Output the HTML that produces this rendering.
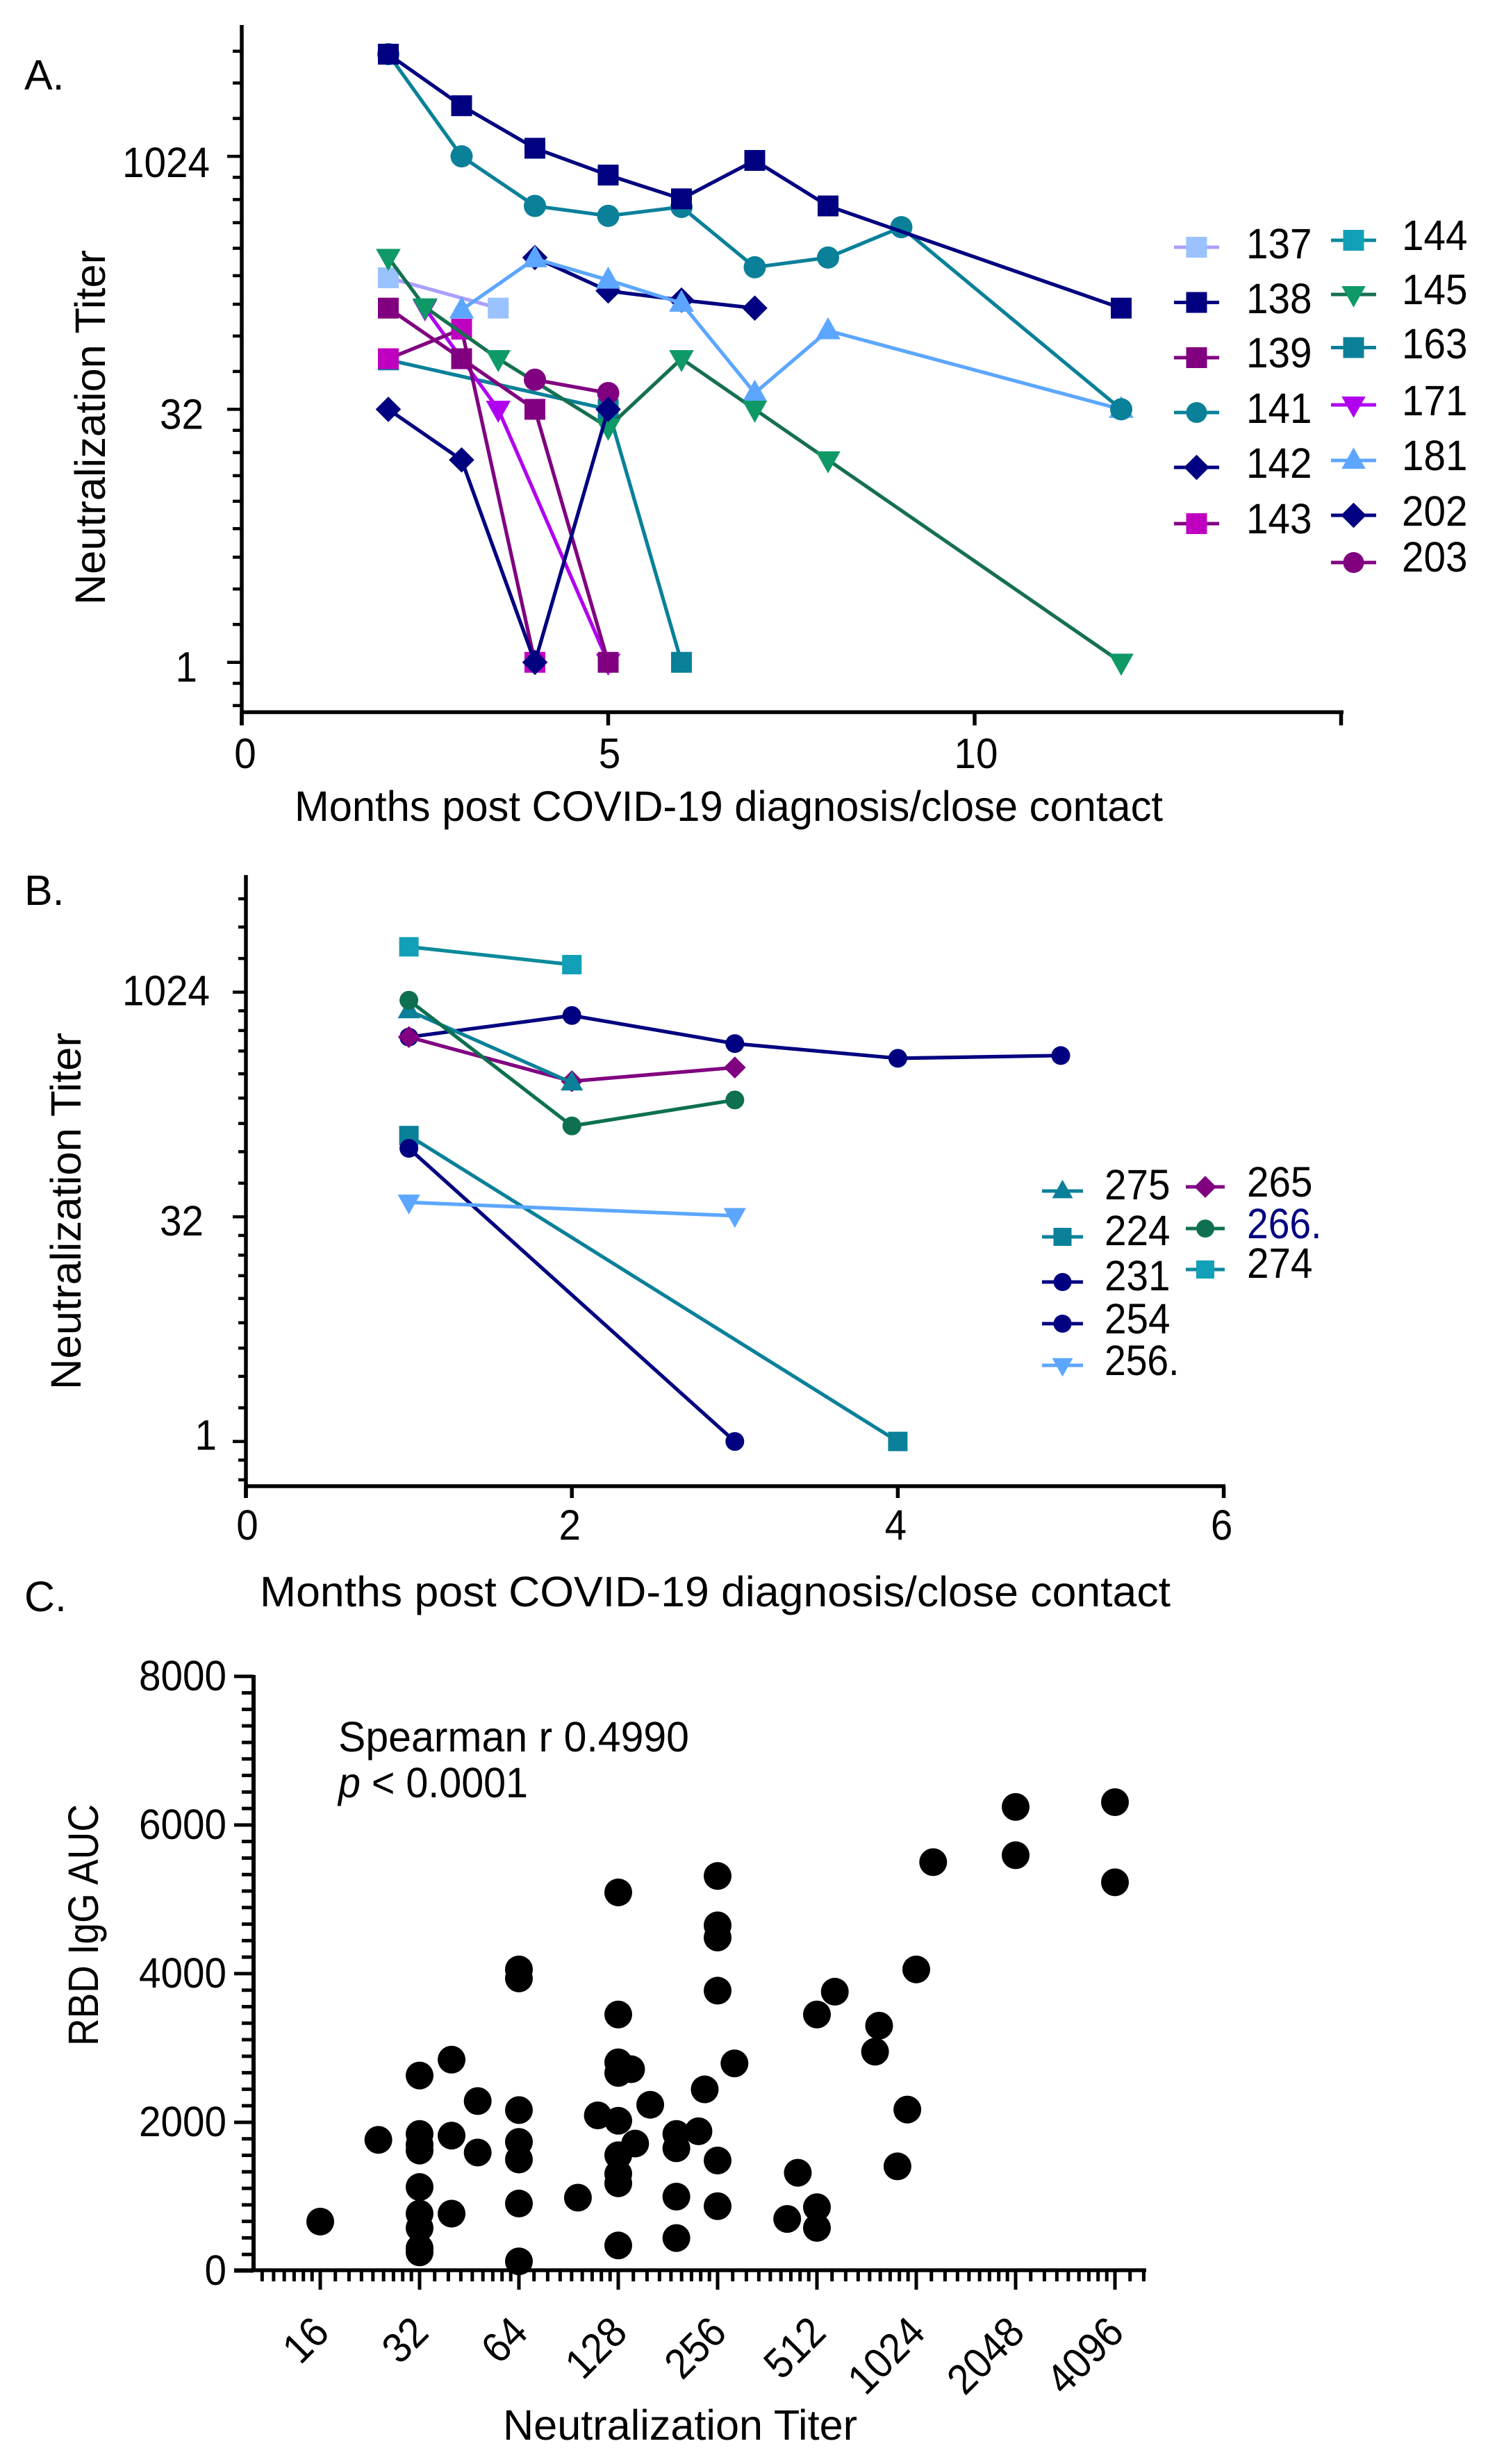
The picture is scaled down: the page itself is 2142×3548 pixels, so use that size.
<!DOCTYPE html>
<html lang="en">
<head>
<meta charset="utf-8">
<title>Neutralization titer over time and RBD IgG correlation</title>
<style>
html,body{margin:0;padding:0;background:#fff;}
svg{display:block;}
text{font-family:"Liberation Sans",sans-serif;fill:#000;font-size:61px;}
</style>
</head>
<body>
<svg id="figure" xmlns="http://www.w3.org/2000/svg" width="2142" height="3548" viewBox="0 0 2142 3548">
  <rect x="0" y="0" width="2142" height="3548" fill="#fff"/>

  <text x="35" y="129">A.</text>
  <text x="35" y="1303">B.</text>
  <text x="35" y="2320">C.</text>

  <text transform="translate(151,871) rotate(-90)" textLength="511" lengthAdjust="spacingAndGlyphs">Neutralization Titer</text>
  <text x="424" y="1182" textLength="1250" lengthAdjust="spacingAndGlyphs">Months post COVID-19 diagnosis/close contact</text>

  <text transform="translate(116,2001) rotate(-90)" textLength="514" lengthAdjust="spacingAndGlyphs">Neutralization Titer</text>
  <text x="374" y="2313" textLength="1311" lengthAdjust="spacingAndGlyphs">Months post COVID-19 diagnosis/close contact</text>

  <text transform="translate(141,2946) rotate(-90)" textLength="348" lengthAdjust="spacingAndGlyphs">RBD IgG AUC</text>
  <text x="724" y="3513" textLength="510" lengthAdjust="spacingAndGlyphs">Neutralization Titer</text>
  <text x="487" y="2522" textLength="505" lengthAdjust="spacingAndGlyphs">Spearman r 0.4990</text>
  <text x="487" y="2588" textLength="273" lengthAdjust="spacingAndGlyphs"><tspan font-style="italic">p</tspan> &lt; 0.0001</text>
</svg>

<script>
// ---------- Panel A data ----------
const monthsA137 = [2, 3.5];
const titersA137 = [194, 128];
const monthsA138 = [2, 3, 4, 5, 6, 7, 8, 12];
const titersA138 = [4150, 2048, 1144, 792, 572, 968, 519, 128];
const monthsA139 = [2, 3, 4, 5];
const titersA139 = [128, 64, 32, 1];
const monthsA141 = [2, 3, 4, 5, 6, 7, 8, 9, 12];
const titersA141 = [4150, 1024, 519, 453, 512, 224, 256, 388, 32];
const monthsA142 = [4, 5, 6, 7];
const titersA142 = [256, 162, 143, 128];
const monthsA143 = [2, 3, 4];
const titersA143 = [64, 96, 1];
const monthsA144 = [];
const titersA144 = [];
const monthsA145 = [2, 2.5, 3.5, 5, 6, 7, 8, 12];
const titersA145 = [256, 130, 64, 25, 64, 32, 16, 1];
const monthsA163 = [2, 5, 6];
const titersA163 = [63, 32, 1];
const monthsA171 = [2.5, 3.5, 5];
const titersA171 = [128, 32, 1];
const monthsA181 = [3, 4, 5, 6, 7, 8, 12];
const titersA181 = [125, 252, 188, 137, 40, 94, 32];
const monthsA202 = [2, 3, 4, 5];
const titersA202 = [32, 16, 1, 32];
const monthsA203 = [4, 5];
const titersA203 = [48, 40];

// ---------- Panel B data ----------
const monthsB224 = [1, 4];
const titersB224 = [112, 1];
const monthsB231 = [1, 3];
const titersB231 = [92, 1];
const monthsB254 = [1, 2, 3, 4, 5];
const titersB254 = [512, 714, 463, 369, 385];
const monthsB256 = [1, 3];
const titersB256 = [40, 32.5];
const monthsB265 = [1, 2, 3];
const titersB265 = [512, 259, 320];
const monthsB266 = [1, 2, 3];
const titersB266 = [904, 130, 194];
const monthsB274 = [1, 2];
const titersB274 = [2060, 1565];
const monthsB275 = [1, 2];
const titersB275 = [771, 253];

// ---------- Panel C data ----------
const titersC = [16, 24, 32, 32, 32, 32, 32, 32, 32, 32, 32, 40, 40, 40, 48, 48, 64, 64, 64, 64, 64, 64, 64, 96.6,
  128, 128, 128, 128, 140, 111, 128, 160, 144, 128, 128, 128, 128,
  192, 192, 192, 192, 224, 234, 256, 256, 256, 256, 288, 256, 256,
  448, 416, 512, 512, 512, 580, 768, 790, 898, 962, 1024, 1152, 2048, 2048, 4096, 4096];
const aucC = [664, 1764, 2629, 1843, 1700, 1620, 1129, 771, 579, 307, 250, 2843, 1821, 771, 2286, 1593, 2164, 1736, 1500, 907, 129, 4057, 3936, 986,
  5093, 3450, 2807, 2664, 2714, 2093, 2021, 2236, 1714, 1557, 1307, 1179, 343,
  1843, 1650, 1000, 443, 1879, 2443, 5314, 4650, 4486, 3771, 2793, 1486, 871,
  1321, 700, 857, 579, 3450, 3757, 2950, 3300, 1407, 2171, 4057, 5500, 5593, 6243, 6307, 5229];

// ---------- Axis ticks ----------
const yMajorTicksLog = [1, 32, 1024];
const yMinorBasesLog = [0.03125, 1, 32, 1024];
const yMinorMultipliers = [1.68, 2.73, 4.22, 6.24, 9.08, 12.9, 17.7, 24.0];
const xTicksA = [0, 5, 10, 15];
const xTickLabelsA = ['0', '5', '10', ''];
const xTicksB = [0, 2, 4, 6];
const xTickLabelsB = ['0', '2', '4', '6'];
const yTicksC = [0, 2000, 4000, 6000, 8000];
const yMinorPerMajorC = 8;
const xTicksC = [16, 32, 64, 128, 256, 512, 1024, 2048, 4096];
const xMinorBasesC = [8, 16, 32, 64, 128, 256, 512, 1024, 2048, 4096];
const xMinorStepsC = [1, 2, 3, 4, 5, 6, 7, 8];

// ---------- Legend labels ----------
const legendLabelsA1 = ['137', '138', '139', '141', '142', '143'];
const legendLabelsA2 = ['144', '145', '163', '171', '181', '202', '203'];
const legendLabelsB1 = ['275', '224', '231', '254', '256.'];
const legendLabelsB2 = ['265', '266.', '274'];

// ---------- Styles (separate from data) ----------
const styleA = {
  '137': {line: '#a9a0ff', fill: '#99c2ff', shape: 'square'},
  '138': {line: '#000080', fill: '#000080', shape: 'square'},
  '139': {line: '#800080', fill: '#800080', shape: 'square'},
  '141': {line: '#0a8099', fill: '#0a8099', shape: 'circle'},
  '142': {line: '#000080', fill: '#000080', shape: 'diamond'},
  '143': {line: '#800080', fill: '#c000c0', shape: 'square'},
  '144': {line: '#0a8a9a', fill: '#12a0b8', shape: 'square'},
  '145': {line: '#167050', fill: '#0e9966', shape: 'down'},
  '163': {line: '#0a8099', fill: '#0a8099', shape: 'square'},
  '171': {line: '#b000f0', fill: '#b000f0', shape: 'down'},
  '181': {line: '#5ca6ff', fill: '#5ca6ff', shape: 'up'},
  '202': {line: '#000080', fill: '#000080', shape: 'diamond'},
  '203': {line: '#800080', fill: '#800080', shape: 'circle'}
};
const styleB = {
  '224': {line: '#0a8099', fill: '#0a8099', shape: 'square'},
  '231': {line: '#000080', fill: '#000080', shape: 'circle'},
  '254': {line: '#000080', fill: '#000080', shape: 'circle'},
  '256.': {line: '#5ca6ff', fill: '#5ca6ff', shape: 'down'},
  '265': {line: '#800080', fill: '#800080', shape: 'diamond'},
  '266.': {line: '#0e7050', fill: '#0e7050', shape: 'circle'},
  '274': {line: '#0a8a9a', fill: '#12a0b8', shape: 'square'},
  '275': {line: '#0a8099', fill: '#0a8099', shape: 'up'}
};

const seriesA = [
  ['137', monthsA137, titersA137], ['144', monthsA144, titersA144], ['163', monthsA163, titersA163],
  ['142', monthsA142, titersA142], ['181', monthsA181, titersA181], ['141', monthsA141, titersA141],
  ['138', monthsA138, titersA138], ['171', monthsA171, titersA171], ['143', monthsA143, titersA143],
  ['139', monthsA139, titersA139], ['145', monthsA145, titersA145], ['203', monthsA203, titersA203],
  ['202', monthsA202, titersA202]
];
const seriesB = [
  ['274', monthsB274, titersB274], ['254', monthsB254, titersB254], ['265', monthsB265, titersB265],
  ['275', monthsB275, titersB275], ['266.', monthsB266, titersB266], ['224', monthsB224, titersB224],
  ['231', monthsB231, titersB231], ['256.', monthsB256, titersB256]
];

// ---------- Helpers ----------
const NS = 'http://www.w3.org/2000/svg';
const svg = document.getElementById('figure');

function mk(tag, parent, attrs) {
  const el = document.createElementNS(NS, tag);
  for (const k in attrs) el.setAttribute(k, attrs[k]);
  parent.appendChild(el);
  return el;
}

// Numeric labels are condensed to match the narrower figures of the reference typeface.
function fitNumber(el, str) {
  const digits = str.replace(/\./g, '').length;
  const dots = str.length - digits;
  el.setAttribute('textLength', digits * 31.5 + dots * 13);
  el.setAttribute('lengthAdjust', 'spacingAndGlyphs');
}

function drawLineSeg(parent, x1, y1, x2, y2, width, name) {
  const el = mk('line', parent, {x1: x1, y1: y1, x2: x2, y2: y2, stroke: '#000', 'stroke-width': width});
  
  
  return el;
}

function drawMarker(parent, shape, cx, cy, s, fill, name) {
  let el;
  if (shape === 'square') {
    el = mk('rect', parent, {x: cx - s, y: cy - s, width: 2 * s, height: 2 * s, fill: fill});
  } else if (shape === 'circle') {
    el = mk('circle', parent, {cx: cx, cy: cy, r: s, fill: fill});
  } else if (shape === 'diamond') {
    const d = s * 1.22;
    el = mk('polygon', parent, {points: [cx - d, cy, cx, cy - d, cx + d, cy, cx, cy + d].join(' '), fill: fill});
  } else if (shape === 'up') {
    const w = s * 1.15, t = s * 1.25, b = s * 0.8;
    el = mk('polygon', parent, {points: [cx - w, cy + b, cx, cy - t, cx + w, cy + b].join(' '), fill: fill});
  } else {
    const w = s * 1.15, t = s * 1.25, b = s * 0.8;
    el = mk('polygon', parent, {points: [cx - w, cy - b, cx, cy + t, cx + w, cy - b].join(' '), fill: fill});
  }
  
  
  return el;
}

function drawText(parent, x, y, str, anchor, name) {
  const el = mk('text', parent, {x: x, y: y, 'text-anchor': anchor});
  el.textContent = str;
  fitNumber(el, str);
  
  
  return el;
}

function drawLogPanel(cfg) {
  const xScale = m => cfg.x0 + m * cfg.pxPerMonth;
  const yScale = t => cfg.y1 - Math.log2(t) * cfg.pxPerLog2;

  const axes = mk('g', svg, {});
  
  

  drawLineSeg(axes, cfg.x0, cfg.top, cfg.x0, cfg.bottom + cfg.xTickLen, 5.5, cfg.name + '-y-axis-line');
  drawLineSeg(axes, cfg.x0, cfg.bottom, cfg.xEnd, cfg.bottom, 5.5, cfg.name + '-x-axis-line');

  yMajorTicksLog.forEach(function (t) {
    const y = yScale(t);
    drawLineSeg(axes, cfg.x0 - cfg.majorLen, y, cfg.x0, y, 4.5, cfg.name + '-y-major-tick');
    drawText(axes, cfg.labelRight[t], y + cfg.labelDy[t], String(t), 'end', cfg.name + '-y-tick-label');
  });
  yMinorBasesLog.forEach(function (base) {
    yMinorMultipliers.forEach(function (mult) {
      const y = yScale(base * mult);
      if (y > cfg.top && y < cfg.bottom - 4) {
        drawLineSeg(axes, cfg.x0 - cfg.minorLen, y, cfg.x0, y, 4.5, cfg.name + '-y-minor-tick');
      }
    });
  });
  cfg.xTicks.forEach(function (m, i) {
    const x = xScale(m);
    drawLineSeg(axes, x, cfg.bottom, x, cfg.bottom + cfg.xTickLen, 5.5, cfg.name + '-x-tick');
    if (cfg.xLabels[i]) {
      const dx = m === 0 ? cfg.xZeroDx : cfg.xLabelDx;
      drawText(axes, x + dx, cfg.xLabelY, cfg.xLabels[i], 'middle', cfg.name + '-x-tick-label');
    }
  });

  cfg.series.forEach(function (row) {
    const id = row[0], months = row[1], titers = row[2], st = cfg.style[id];
    const g = mk('g', svg, {});
    
    
    if (months.length > 1) {
      const pts = months.map((m, i) => xScale(m) + ',' + yScale(titers[i])).join(' ');
      const pl = mk('polyline', g, {points: pts, fill: 'none', stroke: st.line, 'stroke-width': 5.2, 'stroke-linejoin': 'round'});
      
      
    }
    months.forEach(function (m, i) {
      drawMarker(g, st.shape, xScale(m), yScale(titers[i]), cfg.sizes[st.shape], st.fill, 'point-' + id);
    });
  });
}

function drawLegend(labels, style, lx1, lx2, tx, lineYs, textYs, size, name) {
  const g = mk('g', svg, {});
  
  
  labels.forEach(function (lab, i) {
    const st = style[lab];
    const ln = mk('line', g, {x1: lx1, y1: lineYs[i], x2: lx2, y2: lineYs[i], stroke: st.line, 'stroke-width': 5});
    
    
    drawMarker(g, st.shape, (lx1 + lx2) / 2, lineYs[i], size, st.fill, 'legend-marker-' + lab);
    const t = drawText(g, tx, textYs[i], lab, 'start', 'legend-label-' + lab);
    if (lab === '266.') t.setAttribute('style', 'fill:#000080');
  });
}

// ---------- Panel A ----------
drawLogPanel({
  name: 'panel-a', x0: 348, y1: 953.7, pxPerMonth: 105.5, pxPerLog2: 72.86,
  top: 36, bottom: 1025.5, xEnd: 1934, majorLen: 21, minorLen: 13, xTickLen: 19,
  xTicks: xTicksA, xLabels: xTickLabelsA, xLabelDx: 2, xZeroDx: 5, xLabelY: 1106,
  labelRight: {1: 284, 32: 293, 1024: 302}, labelDy: {1: 28, 32: 28, 1024: 30},
  series: seriesA, style: styleA,
  sizes: {square: 15, circle: 16, diamond: 15, up: 15.5, down: 15.5}
});
drawLegend(legendLabelsA1, styleA, 1690, 1755, 1794,
  [356, 435.5, 515, 594, 673, 754], [372, 451, 529, 609, 688, 768], 15, 'panel-a-legend-column-1');
drawLegend(legendLabelsA2, styleA, 1916, 1981, 2018,
  [346, 424, 500.5, 583, 663, 742, 810], [360, 438, 516, 598, 677, 757, 823], 15, 'panel-a-legend-column-2');

// ---------- Panel B ----------
drawLogPanel({
  name: 'panel-b', x0: 354, y1: 2075.6, pxPerMonth: 234.6, pxPerLog2: 64.7,
  top: 1260, bottom: 2140, xEnd: 1764, majorLen: 19, minorLen: 11, xTickLen: 17,
  xTicks: xTicksB, xLabels: xTickLabelsB, xLabelDx: -3, xZeroDx: 2, xLabelY: 2217,
  labelRight: {1: 312, 32: 293, 1024: 302}, labelDy: {1: 12, 32: 27, 1024: 19},
  series: seriesB, style: styleB,
  sizes: {square: 14, circle: 13.5, diamond: 13, up: 14, down: 14}
});
drawLegend(legendLabelsB1, styleB, 1500, 1559, 1590,
  [1715, 1781, 1846, 1906, 1966], [1727, 1793, 1858, 1920, 1980], 13, 'panel-b-legend-column-1');
drawLegend(legendLabelsB2, styleB, 1707, 1763, 1795,
  [1709, 1769, 1828], [1723, 1783, 1840], 13, 'panel-b-legend-column-2');

// ---------- Panel C ----------
(function () {
  const yC = v => 3270 - v * 0.10702;
  const xC = t => 461 + (Math.log2(t) - 4) * 143;
  const axes = mk('g', svg, {});
  
  

  drawLineSeg(axes, 365, yC(8000) - 2, 365, 3270, 6, 'panel-c-y-axis-line');
  drawLineSeg(axes, 337, 3269, 1650, 3269, 5.5, 'panel-c-x-axis-line');

  yTicksC.forEach(function (v, i) {
    const y = yC(v);
    drawLineSeg(axes, 337, y, 365, y, 5, 'panel-c-y-major-tick');
    drawText(axes, 326, y + 20, String(v), 'end', 'panel-c-y-tick-label');
    if (i < yTicksC.length - 1) {
      for (let k = 1; k <= yMinorPerMajorC; k++) {
        const yy = yC(v + (yTicksC[i + 1] - v) * k / (yMinorPerMajorC + 1));
        drawLineSeg(axes, 348, yy, 365, yy, 5, 'panel-c-y-minor-tick');
      }
    }
  });

  xMinorBasesC.forEach(function (base) {
    xMinorStepsC.forEach(function (k) {
      const x = xC(base * (1 + k / 9));
      if (x >= 370 && x <= 1650) {
        drawLineSeg(axes, x, 3269, x, 3285, 5, 'panel-c-x-minor-tick');
      }
    });
  });
  xTicksC.forEach(function (t) {
    const x = xC(t);
    drawLineSeg(axes, x, 3269, x, 3297, 5, 'panel-c-x-major-tick');
    const lab = mk('text', axes, {
      'text-anchor': 'end', 'dominant-baseline': 'central',
      transform: 'translate(' + (x + 1) + ',3347) rotate(-45)'
    });
    lab.textContent = String(t);
    fitNumber(lab, String(t));
    
    
  });

  const dots = mk('g', svg, {});
  
  
  titersC.forEach(function (t, i) {
    const c = mk('circle', dots, {cx: xC(t), cy: yC(aucC[i]), r: 20, fill: '#000'});
    
    
  });
})();
</script>
</body>
</html>
